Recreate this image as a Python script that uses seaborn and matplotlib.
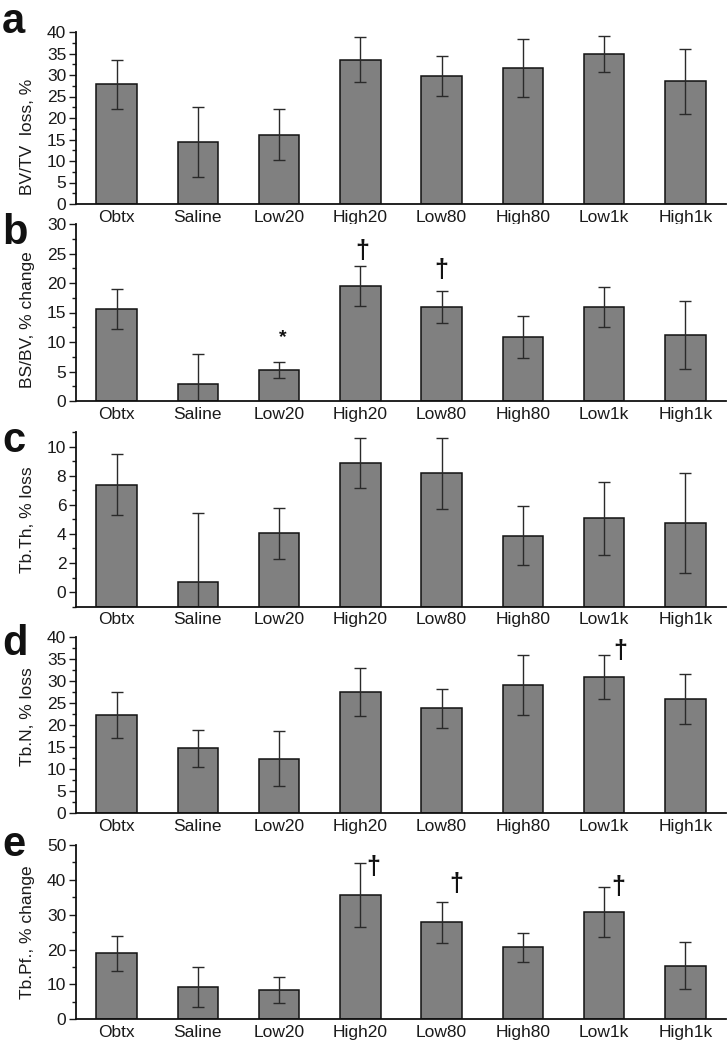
import matplotlib
matplotlib.use('Agg')
import matplotlib.pyplot as plt
import seaborn as sns
from matplotlib.ticker import MultipleLocator, AutoMinorLocator

sns.set_style('ticks')
plt.rcParams['font.family'] = ['Liberation Sans', 'DejaVu Sans']

# Dane
groups = ['Obtx', 'Saline', 'Low20', 'High20', 'Low80', 'High80', 'Low1k', 'High1k']

bvtv_mean = [27.8, 14.4, 16.1, 33.6, 29.8, 31.6, 34.8, 28.5]
bvtv_err = [5.6, 8.2, 5.9, 5.2, 4.6, 6.8, 4.2, 7.5]

bsbv_mean = [15.6, 2.8, 5.25, 19.5, 15.9, 10.9, 15.9, 11.2]
bsbv_err = [3.45, 5.1, 1.3, 3.35, 2.75, 3.55, 3.35, 5.8]

tbth_mean = [7.37, 0.73, 4.05, 8.86, 8.17, 3.89, 5.08, 4.74]
tbth_err = [2.1, 4.74, 1.75, 1.7, 2.45, 2.0, 2.5, 3.45]

tbn_mean = [22.2, 14.7, 12.4, 27.4, 23.8, 29.0, 30.9, 25.9]
tbn_err = [5.2, 4.15, 6.3, 5.4, 4.4, 6.8, 5.0, 5.6]

tbpf_mean = [18.9, 9.26, 8.3, 35.6, 27.8, 20.6, 30.8, 15.4]
tbpf_err = [5.1, 5.6, 3.7, 9.1, 5.9, 4.05, 7.25, 6.65]

ylabels = ['BV/TV  loss, %', 'BS/BV, % change', 'Tb.Th, % loss', 'Tb.N, % loss', 'Tb.Pf., % change']
letters = ['a', 'b', 'c', 'd', 'e']

# Oznaczenia istotności: (panel, grupa, symbol)
marks = [
    ('b', 'High20', '\u2020'),
    ('b', 'Low80', '\u2020'),
    ('b', 'Low20', '*'),
    ('d', 'Low1k', '\u2020'),
    ('e', 'High20', '\u2020'),
    ('e', 'Low80', '\u2020'),
    ('e', 'Low1k', '\u2020'),
]
# przesunięcia symboli względem końca słupka błędu (piksele)
mark_offsets = [(2, 15), (0, 21), (4, 25), (16, 4), (13, -4), (15, 18), (14, 0)]

panels = [
    (bvtv_mean, bvtv_err, (0, 40), 5),
    (bsbv_mean, bsbv_err, (0, 30), 5),
    (tbth_mean, tbth_err, (-1, 11), 2),
    (tbn_mean, tbn_err, (0, 40), 5),
    (tbpf_mean, tbpf_err, (0, 50), 10),
]

W, H = 727, 1050
fig = plt.figure(figsize=(W / 100, H / 100), dpi=100)

# (górna krawędź, dolna krawędź) osi w pikselach
rects_px = [(32, 204), (224, 401), (432, 606.7), (636.7, 813.3), (845, 1019.3)]
label_y = [0.39, 0.46, 0.5, 0.55, 0.5]
letter_base = [33, 244, 452, 655, 856]

text_col = '#1a1a1a'
axes = {}
for i, (mean, err, ylim, step) in enumerate(panels):
    top, bot = rects_px[i]
    ax = fig.add_axes([76 / W, 1 - bot / H, (726 - 76) / W, (bot - top) / H])
    axes[letters[i]] = (ax, mean, err)
    sns.barplot(x=groups, y=mean, color='#808080', saturation=1, width=0.5,
                edgecolor='#111111', linewidth=1.1, errorbar=None, ax=ax)
    # słupki zaczynają się od dolnej krawędzi osi (jak w Origin)
    if ylim[0] != 0:
        for p in ax.patches:
            h = p.get_y() + p.get_height()
            p.set_y(ylim[0])
            p.set_height(h - ylim[0])
    ax.errorbar(range(len(groups)), mean, yerr=err, fmt='none', ecolor='#2a2a2a',
                elinewidth=1.0, capsize=4.5, capthick=1.0)
    ax.set_xlim(-0.5, 7.5)
    ax.yaxis.set_major_locator(MultipleLocator(step))
    ax.yaxis.set_minor_locator(AutoMinorLocator(2))
    if ylim[0] < 0:
        ax.set_yticks(range(0, ylim[1], step))
    ax.set_ylim(*ylim)
    sns.despine(ax=ax)
    for s in ['left', 'bottom']:
        ax.spines[s].set_linewidth(1.3)
        ax.spines[s].set_color('#111111')
    ax.tick_params(axis='y', which='major', length=5, width=1, labelsize=12.5,
                   pad=2, colors=text_col)
    ax.tick_params(axis='y', which='minor', length=3, width=1, colors=text_col)
    ax.tick_params(axis='x', length=0, labelsize=12.5, pad=4, colors=text_col)
    ax.set_xlabel('')
    ax.set_ylabel(ylabels[i], fontsize=12.5, color=text_col)
    ax.yaxis.set_label_coords(-0.063, label_y[i])
    fig.text(2 / W, 1 - letter_base[i] / H, letters[i], fontsize=30,
             fontweight='bold', color='#111111', ha='left', va='baseline')

for (panel, grp, sym), (dx, dy) in zip(marks, mark_offsets):
    ax, mean, err = axes[panel]
    k = groups.index(grp)
    size = 18 if sym != '*' else 14
    ax.annotate(sym, xy=(k, mean[k] + err[k]), xytext=(dx, dy),
                textcoords='offset pixels', ha='center', va='center',
                fontsize=size, fontweight='bold', color='#111111')

fig.savefig('out.png', dpi=100)
